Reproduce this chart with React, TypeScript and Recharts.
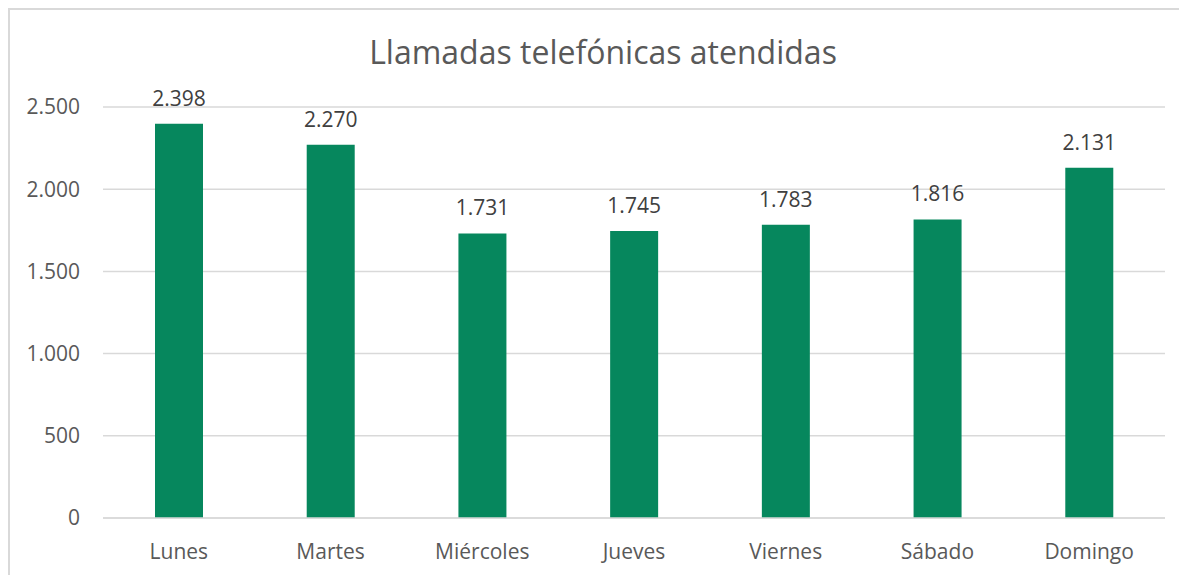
import React from "react";
import { BarChart, Bar, XAxis, YAxis, CartesianGrid, LabelList } from "recharts";

const categories = ["Lunes", "Martes", "Miércoles", "Jueves", "Viernes", "Sábado", "Domingo"];
const calls = [2398, 2270, 1731, 1745, 1783, 1816, 2131];
const yTicks = [0, 500, 1000, 1500, 2000, 2500];
const title = "Llamadas telefónicas atendidas";

const data = categories.map((day, i) => ({ day, calls: calls[i] }));

const fmt = (v: number) => v.toLocaleString("de-DE");

const FONT = "'Open Sans', sans-serif";

export default function App() {
  return (
    <div
      style={{
        position: "relative",
        width: 1179,
        height: 567,
        borderTop: "2px solid #d9d9d9",
        borderLeft: "2px solid #d9d9d9",
        boxSizing: "border-box",
        background: "#fff",
        fontFamily: FONT,
      }}
    >
      <div
        style={{
          position: "absolute",
          left: 0,
          width: 1186,
          top: 22,
          textAlign: "center",
          fontSize: 32,
          color: "#595959",
          lineHeight: "40px",
          whiteSpace: "nowrap",
        }}
      >
        {title}
      </div>
      <div style={{ position: "absolute", left: -2, top: -2 }}>
        <BarChart
          width={1179}
          height={567}
          data={data}
          margin={{ top: 99, right: 22, bottom: 0, left: 0 }}
        >
          <CartesianGrid vertical={false} stroke="#d9d9d9" strokeWidth={1.5} />
          <XAxis
            dataKey="day"
            axisLine={{ stroke: "#d9d9d9", strokeWidth: 1.5 }}
            tickLine={false}
            tickSize={0}
            tickMargin={26}
            height={57}
            interval={0}
            tick={{ fill: "#595959", fontSize: 21, fontFamily: FONT }}
          />
          <YAxis
            domain={[0, 2500]}
            ticks={yTicks}
            axisLine={false}
            tickLine={false}
            tickSize={0}
            tickMargin={23}
            width={95}
            tickFormatter={fmt}
            tick={{ fill: "#595959", fontSize: 21, fontFamily: FONT }}
          />
          <Bar dataKey="calls" fill="#06875d" barSize={48} isAnimationActive={false}>
            <LabelList
              dataKey="calls"
              position="top"
              offset={18}
              formatter={(v: any) => fmt(Number(v))}
              style={{ fill: "#404040", fontSize: 21, fontFamily: FONT }}
            />
          </Bar>
        </BarChart>
      </div>
    </div>
  );
}
